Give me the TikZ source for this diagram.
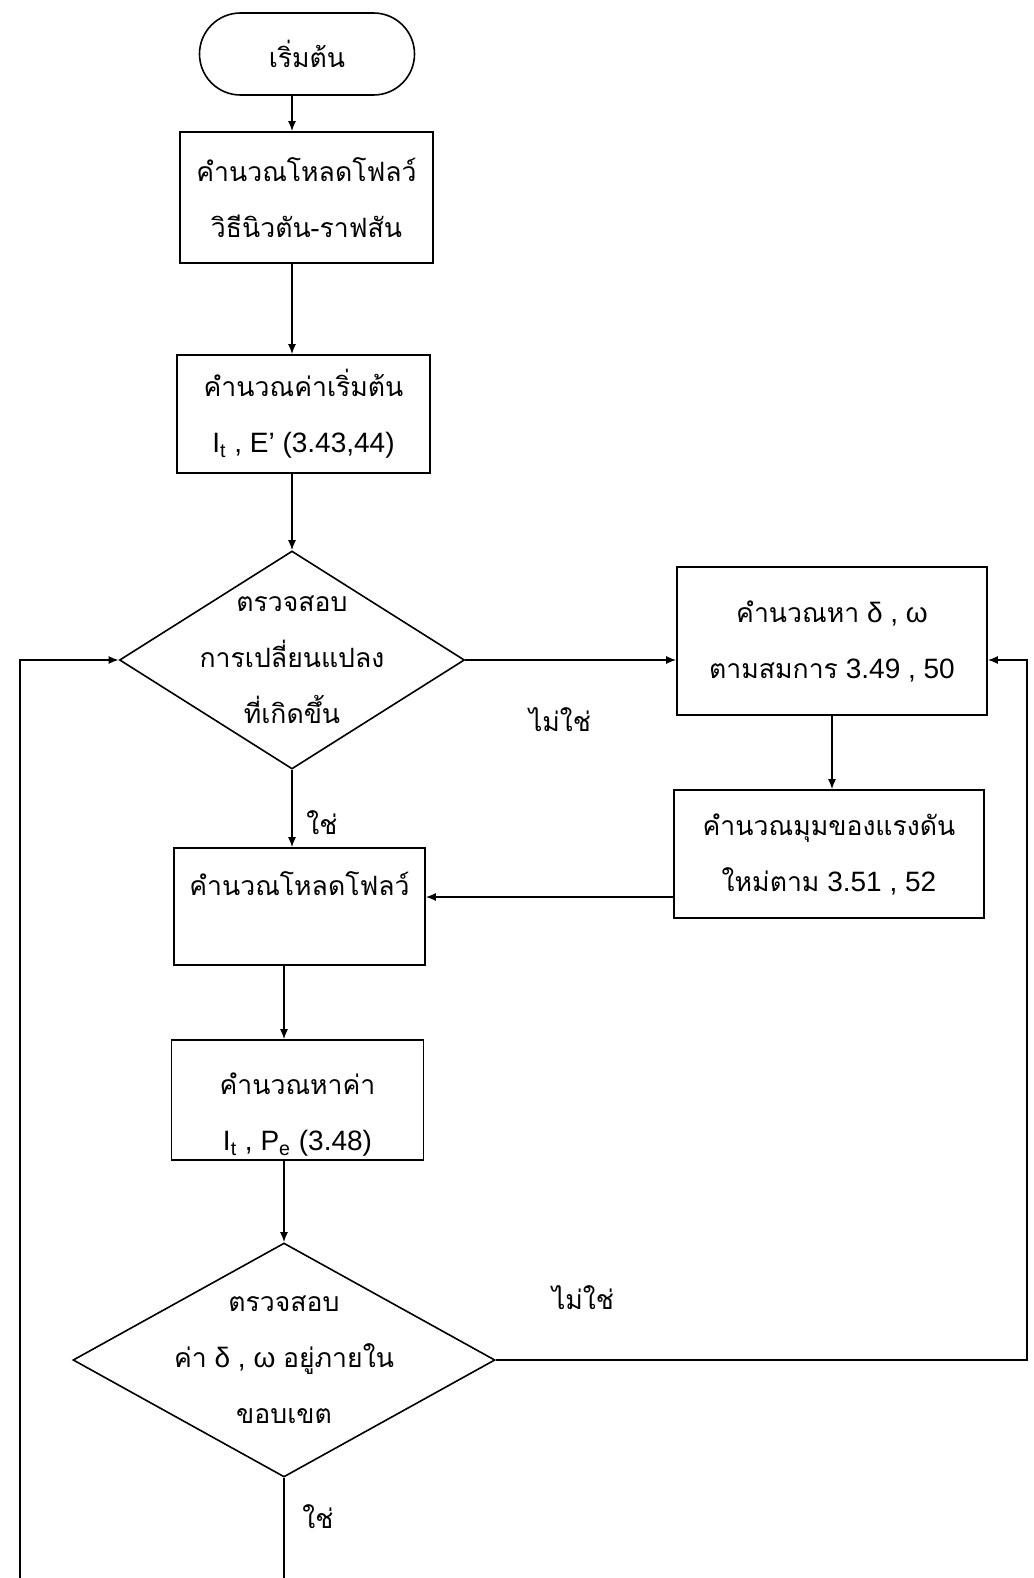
\documentclass[tikz,border=0pt]{standalone}
\usepackage{fontspec}
\setmainfont{Liberation Sans}
\newfontfamily\thaifont[Script=Thai,Scale=0.95]{Loma}
\newcommand{\thtxt}[1]{{\thaifont #1}}
\usetikzlibrary{shapes.geometric,arrows.meta}

\begin{document}
\begin{tikzpicture}[x=0.5pt, y=-0.5pt, line width=0.8pt,
    font=\fontsize{14}{28}\selectfont,
    term/.style={draw, rounded corners=20.5pt, inner sep=0pt},
    proc/.style={draw, rectangle, align=center, inner sep=0pt},
    dec/.style={draw, diamond, inner sep=0pt},
    arr/.style={-{Latex[length=5pt,width=4pt]}}]
      \useasboundingbox (0,0) rectangle (1033,1578);
      % main column
      \node (start) at (307,54) [term, minimum width=107.5pt, minimum height=41pt] {\thtxt{เริ่มต้น}};
      \node (lf1) at (306.5,197.5) [proc, minimum width=126.5pt, minimum height=65.5pt] {\thtxt{คำนวณโหลดโฟลว์}\\ \thtxt{วิธีนิวตัน-ราฟสัน}};
      \node (init) at (303.5,414) [proc, minimum width=126.5pt, minimum height=59pt] {\thtxt{คำนวณค่าเริ่มต้น}\\ I\textsubscript{t} , E' (3.43,44)};
      \node (chk1) at (292,660) [dec, minimum width=172.5pt, minimum height=109pt] {};
      \node (chk1t) at (chk1) [align=center] {\thtxt{ตรวจสอบ}\\ \thtxt{การเปลี่ยนแปลง}\\ \thtxt{ที่เกิดขึ้น}};
      \node (lf2) at (299.5,906.5) [proc, minimum width=125.5pt, minimum height=58.5pt] {\thtxt{คำนวณโหลดโฟลว์}\\[-13pt] \strut};
      \node (pe) at (297.5,1100) [proc, minimum width=126pt, minimum height=60pt] {};
      \node (pet) at (297.5,1115) [align=center] {\thtxt{คำนวณหาค่า}\\ I\textsubscript{t} , P\textsubscript{e} (3.48)};
      \node (chk2) at (284,1360) [dec, minimum width=211pt, minimum height=117pt] {};
      \node (chk2t) at (chk2) [align=center] {\thtxt{ตรวจสอบ}\\ \thtxt{ค่า} δ , ω \thtxt{อยู่ภายใน}\\ \thtxt{ขอบเขต}};
      % right column
      \node (dw) at (832,641) [proc, minimum width=155pt, minimum height=74pt] {\thtxt{คำนวณหา} δ , ω\\ \thtxt{ตามสมการ} 3.49 , 50};
      \node (ang) at (829,854) [proc, minimum width=155pt, minimum height=64pt] {\thtxt{คำนวณมุมของแรงดัน}\\ \thtxt{ใหม่ตาม} 3.51 , 52};
      % labels
      \node (no1) at (560,720) {\thtxt{ไม่ใช่}};
      \node (yes1) at (322,823) {\thtxt{ใช่}};
      \node (no2) at (583,1298) {\thtxt{ไม่ใช่}};
      \node (yes2) at (318,1517) {\thtxt{ใช่}};
      % loose ends
      \coordinate (lb) at (20,1578);
      \coordinate (lt) at (20,660);
      \coordinate (rb) at (1027,1360);
      \coordinate (rt) at (1027,660);
      \coordinate (bot) at (284,1578);
      \draw[arr] (start.south -| chk1) -- (lf1.north -| chk1);
      \draw[arr] (lf1.south -| chk1) -- (init.north -| chk1);
      \draw[arr] (init.south -| chk1) -- (chk1.north);
      \draw[arr] (chk1.south) -- (chk1.south |- lf2.north);
      \draw[arr] (chk1.east) -- (chk1.east -| dw.west);
      \draw[arr] (dw.south) -- (dw.south |- ang.north);
      \draw[arr] ([yshift=-21.5pt]ang.west) coordinate (ango) -- (ango -| lf2.east);
      \draw[arr] (lf2.south -| chk2) -- (pe.north -| chk2);
      \draw[arr] (pe.south -| chk2) -- (chk2.north);
      \draw[arr] (chk2.east) -- (rb) -- (rt) -- (rt -| dw.east);
      \draw (chk2.south) -- (bot);
      \draw[arr] (lb) -- (lt) -- (lt -| chk1.west);
    \end{tikzpicture}
\end{document}
